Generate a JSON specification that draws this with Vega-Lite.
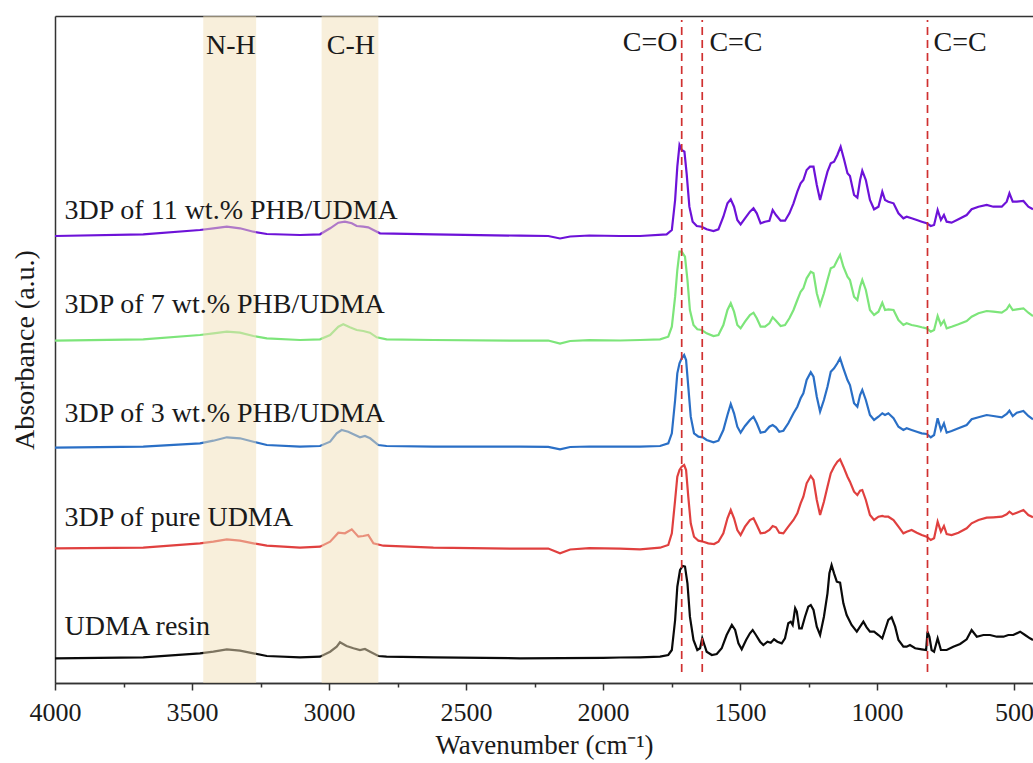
{
"$schema":"https://vega.github.io/schema/vega-lite/v6.json",
"width":978,"height":667,
"autosize":{"type":"none"},
"padding":{"left":55,"top":16,"right":0,"bottom":80},
"background":"white",
"config":{"view":{"stroke":null},"font":"Liberation Serif","axis":{"labelFont":"Liberation Serif","titleFont":"Liberation Serif","grid":false}},
"datasets":{
"spec":[
{"s":"P11","w":4000,"a":447},{"s":"P11","w":3678,"a":448.7},{"s":"P11","w":3471,"a":453},{"s":"P11","w":3422,"a":454.7},{"s":"P11","w":3373,"a":456.3},{"s":"P11","w":3325,"a":454.7},{"s":"P11","w":3276,"a":451.3},{"s":"P11","w":3227,"a":449},{"s":"P11","w":3106,"a":448},{"s":"P11","w":3033,"a":448.7},{"s":"P11","w":2996,"a":454.7},{"s":"P11","w":2966,"a":460.3},{"s":"P11","w":2942,"a":461.3},{"s":"P11","w":2917,"a":459.7},{"s":"P11","w":2899,"a":457},{"s":"P11","w":2875,"a":456.3},{"s":"P11","w":2857,"a":455.7},{"s":"P11","w":2838,"a":453},{"s":"P11","w":2814,"a":449.7},{"s":"P11","w":2619,"a":448.7},{"s":"P11","w":2303,"a":447.3},{"s":"P11","w":2200,"a":447},{"s":"P11","w":2157,"a":444.5},{"s":"P11","w":2120,"a":446.5},{"s":"P11","w":2050,"a":447.5},{"s":"P11","w":1938,"a":447},
{"s":"P11","w":1865,"a":447},{"s":"P11","w":1768,"a":448.7},{"s":"P11","w":1749,"a":453},{"s":"P11","w":1737,"a":483},{"s":"P11","w":1729,"a":516.3},{"s":"P11","w":1721,"a":538},{"s":"P11","w":1713,"a":533},{"s":"P11","w":1703,"a":531.3},{"s":"P11","w":1695,"a":509.7},{"s":"P11","w":1685,"a":476.3},{"s":"P11","w":1673,"a":461.3},{"s":"P11","w":1658,"a":457},{"s":"P11","w":1640,"a":456.3},{"s":"P11","w":1622,"a":453.7},{"s":"P11","w":1597,"a":452},{"s":"P11","w":1579,"a":453.7},{"s":"P11","w":1561,"a":466.3},{"s":"P11","w":1546,"a":479.7},{"s":"P11","w":1534,"a":483.7},{"s":"P11","w":1522,"a":476.3},{"s":"P11","w":1510,"a":463},{"s":"P11","w":1498,"a":458.7},{"s":"P11","w":1482,"a":464.7},{"s":"P11","w":1464,"a":471.3},{"s":"P11","w":1451,"a":474.7},{"s":"P11","w":1439,"a":469.7},{"s":"P11","w":1425,"a":459.7},{"s":"P11","w":1409,"a":461.3},{"s":"P11","w":1393,"a":462.3},{"s":"P11","w":1381,"a":473},{"s":"P11","w":1369,"a":468},{"s":"P11","w":1352,"a":462.3},{"s":"P11","w":1336,"a":462.3},{"s":"P11","w":1320,"a":469.7},{"s":"P11","w":1305,"a":479.7},{"s":"P11","w":1291,"a":491.3},{"s":"P11","w":1279,"a":499.7},{"s":"P11","w":1269,"a":503},{"s":"P11","w":1257,"a":513},{"s":"P11","w":1245,"a":516.3},{"s":"P11","w":1232,"a":516.3},{"s":"P11","w":1220,"a":498},{"s":"P11","w":1208,"a":483},{"s":"P11","w":1194,"a":498},{"s":"P11","w":1181,"a":511.3},{"s":"P11","w":1169,"a":519.7},{"s":"P11","w":1157,"a":521.3},{"s":"P11","w":1145,"a":528},{"s":"P11","w":1133,"a":536.3},{"s":"P11","w":1120,"a":523},{"s":"P11","w":1108,"a":509.7},{"s":"P11","w":1099,"a":507},{"s":"P11","w":1084,"a":488},{"s":"P11","w":1072,"a":485.3},{"s":"P11","w":1062,"a":503},{"s":"P11","w":1054,"a":512.3},{"s":"P11","w":1041,"a":503},{"s":"P11","w":1026,"a":483},{"s":"P11","w":1011,"a":473.7},{"s":"P11","w":995,"a":476.3},{"s":"P11","w":981,"a":491.3},{"s":"P11","w":971,"a":483},{"s":"P11","w":959,"a":481.3},{"s":"P11","w":940,"a":479.7},{"s":"P11","w":922,"a":469.7},{"s":"P11","w":904,"a":464.7},{"s":"P11","w":892,"a":466.3},{"s":"P11","w":874,"a":464.7},{"s":"P11","w":855,"a":463},{"s":"P11","w":837,"a":461.3},{"s":"P11","w":819,"a":459.7},{"s":"P11","w":804,"a":457},{"s":"P11","w":792,"a":458},{"s":"P11","w":779,"a":473},{"s":"P11","w":767,"a":463},{"s":"P11","w":756,"a":468},{"s":"P11","w":746,"a":461.3},{"s":"P11","w":728,"a":460.3},{"s":"P11","w":703,"a":463.7},{"s":"P11","w":673,"a":468},{"s":"P11","w":655,"a":473.7},{"s":"P11","w":630,"a":476.3},{"s":"P11","w":600,"a":478},{"s":"P11","w":576,"a":476.3},{"s":"P11","w":545,"a":476.3},{"s":"P11","w":527,"a":481.3},{"s":"P11","w":517,"a":489.7},{"s":"P11","w":505,"a":481.3},{"s":"P11","w":490,"a":481.3},{"s":"P11","w":466,"a":482},{"s":"P11","w":448,"a":476.3},{"s":"P11","w":431,"a":473.7},

{"s":"P7","w":4000,"a":342.3},{"s":"P7","w":3678,"a":343.7},{"s":"P7","w":3471,"a":348},{"s":"P7","w":3422,"a":349.7},{"s":"P7","w":3373,"a":351.3},{"s":"P7","w":3325,"a":350.3},{"s":"P7","w":3276,"a":347},{"s":"P7","w":3227,"a":344.7},{"s":"P7","w":3106,"a":343},{"s":"P7","w":3033,"a":343.7},{"s":"P7","w":2996,"a":348},{"s":"P7","w":2966,"a":356.3},{"s":"P7","w":2948,"a":358.7},{"s":"P7","w":2924,"a":355.7},{"s":"P7","w":2899,"a":353},{"s":"P7","w":2875,"a":352},{"s":"P7","w":2851,"a":350.3},{"s":"P7","w":2826,"a":345.7},{"s":"P7","w":2790,"a":343.7},{"s":"P7","w":2619,"a":343},{"s":"P7","w":2303,"a":342.3},{"s":"P7","w":2200,"a":342.5},{"s":"P7","w":2157,"a":339.5},{"s":"P7","w":2120,"a":342},{"s":"P7","w":2050,"a":342.8},{"s":"P7","w":1938,"a":342.5},
{"s":"P7","w":1865,"a":343},{"s":"P7","w":1792,"a":343.7},{"s":"P7","w":1762,"a":346.3},{"s":"P7","w":1749,"a":356.3},{"s":"P7","w":1737,"a":386.3},{"s":"P7","w":1729,"a":413},{"s":"P7","w":1721,"a":431.3},{"s":"P7","w":1713,"a":431.3},{"s":"P7","w":1701,"a":426.3},{"s":"P7","w":1692,"a":403},{"s":"P7","w":1683,"a":373},{"s":"P7","w":1670,"a":358},{"s":"P7","w":1656,"a":353.7},{"s":"P7","w":1640,"a":353},{"s":"P7","w":1622,"a":349.7},{"s":"P7","w":1597,"a":347},{"s":"P7","w":1579,"a":348},{"s":"P7","w":1561,"a":358},{"s":"P7","w":1546,"a":373},{"s":"P7","w":1534,"a":379.7},{"s":"P7","w":1522,"a":371.3},{"s":"P7","w":1510,"a":358},{"s":"P7","w":1498,"a":354.7},{"s":"P7","w":1482,"a":361.3},{"s":"P7","w":1464,"a":368},{"s":"P7","w":1451,"a":370.3},{"s":"P7","w":1439,"a":364.7},{"s":"P7","w":1425,"a":356.3},{"s":"P7","w":1409,"a":356.3},{"s":"P7","w":1393,"a":359.7},{"s":"P7","w":1381,"a":365.7},{"s":"P7","w":1369,"a":362.3},{"s":"P7","w":1352,"a":357},{"s":"P7","w":1336,"a":358},{"s":"P7","w":1320,"a":364.7},{"s":"P7","w":1305,"a":373},{"s":"P7","w":1291,"a":383},{"s":"P7","w":1279,"a":391.3},{"s":"P7","w":1269,"a":394.7},{"s":"P7","w":1257,"a":404.7},{"s":"P7","w":1242,"a":411.3},{"s":"P7","w":1232,"a":409.7},{"s":"P7","w":1220,"a":389.7},{"s":"P7","w":1208,"a":378},{"s":"P7","w":1194,"a":389.7},{"s":"P7","w":1181,"a":403},{"s":"P7","w":1169,"a":414.7},{"s":"P7","w":1157,"a":416.3},{"s":"P7","w":1145,"a":423},{"s":"P7","w":1135,"a":428},{"s":"P7","w":1123,"a":416.3},{"s":"P7","w":1108,"a":406.3},{"s":"P7","w":1099,"a":403},{"s":"P7","w":1084,"a":386.3},{"s":"P7","w":1072,"a":383},{"s":"P7","w":1062,"a":396.3},{"s":"P7","w":1054,"a":403},{"s":"P7","w":1041,"a":393},{"s":"P7","w":1026,"a":373},{"s":"P7","w":1011,"a":368},{"s":"P7","w":995,"a":371.3},{"s":"P7","w":981,"a":380.3},{"s":"P7","w":971,"a":373},{"s":"P7","w":959,"a":373.7},{"s":"P7","w":940,"a":373},{"s":"P7","w":922,"a":363},{"s":"P7","w":904,"a":358},{"s":"P7","w":892,"a":359.7},{"s":"P7","w":874,"a":358},{"s":"P7","w":855,"a":357},{"s":"P7","w":837,"a":355.7},{"s":"P7","w":819,"a":354.7},{"s":"P7","w":804,"a":351.3},{"s":"P7","w":792,"a":353},{"s":"P7","w":779,"a":367},{"s":"P7","w":767,"a":358},{"s":"P7","w":756,"a":362.3},{"s":"P7","w":746,"a":354.7},{"s":"P7","w":728,"a":356.3},{"s":"P7","w":703,"a":358.7},{"s":"P7","w":673,"a":362},{"s":"P7","w":655,"a":366.3},{"s":"P7","w":630,"a":369.7},{"s":"P7","w":600,"a":372},{"s":"P7","w":576,"a":371.3},{"s":"P7","w":545,"a":370.3},{"s":"P7","w":527,"a":373.7},{"s":"P7","w":517,"a":378},{"s":"P7","w":505,"a":373},{"s":"P7","w":490,"a":373.7},{"s":"P7","w":466,"a":374.7},{"s":"P7","w":448,"a":370.3},{"s":"P7","w":431,"a":367},

{"s":"P3","w":4000,"a":235.3},{"s":"P3","w":3678,"a":236.3},{"s":"P3","w":3471,"a":239.7},{"s":"P3","w":3422,"a":242.3},{"s":"P3","w":3373,"a":245.7},{"s":"P3","w":3325,"a":244.7},{"s":"P3","w":3276,"a":241.3},{"s":"P3","w":3227,"a":238},{"s":"P3","w":3106,"a":236.3},{"s":"P3","w":3033,"a":237},{"s":"P3","w":2996,"a":241.3},{"s":"P3","w":2972,"a":249.7},{"s":"P3","w":2954,"a":253},{"s":"P3","w":2930,"a":251.3},{"s":"P3","w":2905,"a":248},{"s":"P3","w":2887,"a":245.7},{"s":"P3","w":2869,"a":247},{"s":"P3","w":2850,"a":244.7},{"s":"P3","w":2820,"a":238},{"s":"P3","w":2790,"a":237},{"s":"P3","w":2619,"a":236.3},{"s":"P3","w":2303,"a":236.3},{"s":"P3","w":2200,"a":236.2},{"s":"P3","w":2157,"a":233.7},{"s":"P3","w":2120,"a":236},{"s":"P3","w":2050,"a":236.5},{"s":"P3","w":1938,"a":236.3},
{"s":"P3","w":1865,"a":236.3},{"s":"P3","w":1792,"a":237},{"s":"P3","w":1762,"a":239.7},{"s":"P3","w":1749,"a":249.7},{"s":"P3","w":1737,"a":283},{"s":"P3","w":1729,"a":309.7},{"s":"P3","w":1721,"a":319.7},{"s":"P3","w":1713,"a":324.7},{"s":"P3","w":1704,"a":328},{"s":"P3","w":1697,"a":323},{"s":"P3","w":1689,"a":296.3},{"s":"P3","w":1680,"a":266.3},{"s":"P3","w":1668,"a":249.7},{"s":"P3","w":1652,"a":246.3},{"s":"P3","w":1636,"a":245.7},{"s":"P3","w":1622,"a":243},{"s":"P3","w":1597,"a":240.7},{"s":"P3","w":1579,"a":242.3},{"s":"P3","w":1561,"a":253},{"s":"P3","w":1546,"a":268},{"s":"P3","w":1534,"a":279},{"s":"P3","w":1522,"a":269.7},{"s":"P3","w":1510,"a":256.3},{"s":"P3","w":1498,"a":250.3},{"s":"P3","w":1482,"a":257},{"s":"P3","w":1464,"a":263},{"s":"P3","w":1451,"a":266.3},{"s":"P3","w":1439,"a":259.7},{"s":"P3","w":1425,"a":250.3},{"s":"P3","w":1409,"a":251.3},{"s":"P3","w":1393,"a":256.3},{"s":"P3","w":1381,"a":258},{"s":"P3","w":1369,"a":255.7},{"s":"P3","w":1357,"a":251.3},{"s":"P3","w":1342,"a":252.3},{"s":"P3","w":1324,"a":259.7},{"s":"P3","w":1305,"a":269.7},{"s":"P3","w":1291,"a":276.3},{"s":"P3","w":1279,"a":284.7},{"s":"P3","w":1269,"a":289.7},{"s":"P3","w":1257,"a":303},{"s":"P3","w":1242,"a":310.7},{"s":"P3","w":1232,"a":306.3},{"s":"P3","w":1220,"a":286.3},{"s":"P3","w":1208,"a":271.3},{"s":"P3","w":1194,"a":283},{"s":"P3","w":1181,"a":296.3},{"s":"P3","w":1169,"a":311.3},{"s":"P3","w":1157,"a":314.7},{"s":"P3","w":1145,"a":319.7},{"s":"P3","w":1135,"a":324.7},{"s":"P3","w":1123,"a":314.7},{"s":"P3","w":1108,"a":303},{"s":"P3","w":1099,"a":298},{"s":"P3","w":1084,"a":279.7},{"s":"P3","w":1072,"a":276.3},{"s":"P3","w":1062,"a":288},{"s":"P3","w":1054,"a":293},{"s":"P3","w":1041,"a":283},{"s":"P3","w":1026,"a":268},{"s":"P3","w":1011,"a":263},{"s":"P3","w":995,"a":266.3},{"s":"P3","w":981,"a":269.7},{"s":"P3","w":971,"a":268},{"s":"P3","w":959,"a":269.7},{"s":"P3","w":940,"a":264.7},{"s":"P3","w":922,"a":256.3},{"s":"P3","w":904,"a":253},{"s":"P3","w":892,"a":254.7},{"s":"P3","w":874,"a":253},{"s":"P3","w":855,"a":251.3},{"s":"P3","w":837,"a":249.7},{"s":"P3","w":819,"a":249},{"s":"P3","w":804,"a":245.7},{"s":"P3","w":792,"a":248},{"s":"P3","w":779,"a":264.7},{"s":"P3","w":767,"a":253},{"s":"P3","w":756,"a":259.7},{"s":"P3","w":746,"a":250.3},{"s":"P3","w":728,"a":252},{"s":"P3","w":703,"a":254.7},{"s":"P3","w":673,"a":258},{"s":"P3","w":655,"a":263.7},{"s":"P3","w":630,"a":265.7},{"s":"P3","w":600,"a":268},{"s":"P3","w":576,"a":267},{"s":"P3","w":545,"a":265.7},{"s":"P3","w":527,"a":269},{"s":"P3","w":517,"a":272.3},{"s":"P3","w":505,"a":267},{"s":"P3","w":490,"a":270.3},{"s":"P3","w":466,"a":272},{"s":"P3","w":448,"a":267},{"s":"P3","w":431,"a":263.7},

{"s":"P0","w":4000,"a":134.7},{"s":"P0","w":3678,"a":135.3},{"s":"P0","w":3471,"a":139.7},{"s":"P0","w":3422,"a":141.3},{"s":"P0","w":3373,"a":143.7},{"s":"P0","w":3325,"a":142.3},{"s":"P0","w":3276,"a":139.7},{"s":"P0","w":3227,"a":137.3},{"s":"P0","w":3106,"a":135.3},{"s":"P0","w":3033,"a":136.3},{"s":"P0","w":2996,"a":141.3},{"s":"P0","w":2966,"a":150.3},{"s":"P0","w":2942,"a":149.7},{"s":"P0","w":2917,"a":153.7},{"s":"P0","w":2893,"a":146.3},{"s":"P0","w":2875,"a":147},{"s":"P0","w":2857,"a":148},{"s":"P0","w":2838,"a":139.7},{"s":"P0","w":2802,"a":137.3},{"s":"P0","w":2619,"a":135.3},{"s":"P0","w":2303,"a":134.3},{"s":"P0","w":2200,"a":134.5},{"s":"P0","w":2157,"a":129.7},{"s":"P0","w":2120,"a":133.5},{"s":"P0","w":2050,"a":134.8},{"s":"P0","w":1938,"a":134.3},
{"s":"P0","w":1865,"a":133.7},{"s":"P0","w":1792,"a":135.3},{"s":"P0","w":1762,"a":138},{"s":"P0","w":1749,"a":149.7},{"s":"P0","w":1737,"a":183},{"s":"P0","w":1729,"a":206.3},{"s":"P0","w":1721,"a":213},{"s":"P0","w":1713,"a":216.3},{"s":"P0","w":1704,"a":218},{"s":"P0","w":1697,"a":213},{"s":"P0","w":1689,"a":186.3},{"s":"P0","w":1680,"a":159.7},{"s":"P0","w":1668,"a":146.3},{"s":"P0","w":1652,"a":142.3},{"s":"P0","w":1634,"a":141.3},{"s":"P0","w":1616,"a":139.7},{"s":"P0","w":1595,"a":139},{"s":"P0","w":1579,"a":141.3},{"s":"P0","w":1561,"a":149.7},{"s":"P0","w":1546,"a":164.7},{"s":"P0","w":1534,"a":173},{"s":"P0","w":1522,"a":164.7},{"s":"P0","w":1510,"a":153},{"s":"P0","w":1498,"a":148},{"s":"P0","w":1482,"a":156.3},{"s":"P0","w":1464,"a":163},{"s":"P0","w":1451,"a":164.7},{"s":"P0","w":1439,"a":158},{"s":"P0","w":1425,"a":149.7},{"s":"P0","w":1409,"a":150.3},{"s":"P0","w":1393,"a":153},{"s":"P0","w":1381,"a":157},{"s":"P0","w":1369,"a":155.7},{"s":"P0","w":1357,"a":150.3},{"s":"P0","w":1342,"a":149.7},{"s":"P0","w":1324,"a":156.3},{"s":"P0","w":1305,"a":163},{"s":"P0","w":1291,"a":169.7},{"s":"P0","w":1279,"a":179.7},{"s":"P0","w":1269,"a":186.3},{"s":"P0","w":1257,"a":199.7},{"s":"P0","w":1242,"a":207},{"s":"P0","w":1232,"a":203},{"s":"P0","w":1220,"a":183},{"s":"P0","w":1208,"a":168},{"s":"P0","w":1194,"a":181.3},{"s":"P0","w":1181,"a":196.3},{"s":"P0","w":1169,"a":209.7},{"s":"P0","w":1157,"a":216.3},{"s":"P0","w":1145,"a":221.3},{"s":"P0","w":1135,"a":223.7},{"s":"P0","w":1123,"a":216.3},{"s":"P0","w":1108,"a":206.3},{"s":"P0","w":1099,"a":201.3},{"s":"P0","w":1084,"a":191.3},{"s":"P0","w":1072,"a":188},{"s":"P0","w":1062,"a":192.3},{"s":"P0","w":1054,"a":193},{"s":"P0","w":1041,"a":183},{"s":"P0","w":1026,"a":168},{"s":"P0","w":1011,"a":163},{"s":"P0","w":995,"a":166.3},{"s":"P0","w":981,"a":167},{"s":"P0","w":971,"a":166.3},{"s":"P0","w":959,"a":166.3},{"s":"P0","w":940,"a":163},{"s":"P0","w":922,"a":156.3},{"s":"P0","w":904,"a":149.7},{"s":"P0","w":892,"a":151.3},{"s":"P0","w":874,"a":153},{"s":"P0","w":855,"a":150.3},{"s":"P0","w":837,"a":148},{"s":"P0","w":819,"a":146.3},{"s":"P0","w":804,"a":143},{"s":"P0","w":792,"a":144.7},{"s":"P0","w":779,"a":161.3},{"s":"P0","w":767,"a":151.3},{"s":"P0","w":756,"a":157},{"s":"P0","w":746,"a":149},{"s":"P0","w":728,"a":148},{"s":"P0","w":703,"a":150.3},{"s":"P0","w":673,"a":154.7},{"s":"P0","w":655,"a":159.7},{"s":"P0","w":630,"a":163},{"s":"P0","w":600,"a":165.3},{"s":"P0","w":576,"a":165.7},{"s":"P0","w":545,"a":166.3},{"s":"P0","w":527,"a":168.7},{"s":"P0","w":517,"a":171.3},{"s":"P0","w":505,"a":168.7},{"s":"P0","w":490,"a":170.3},{"s":"P0","w":466,"a":173},{"s":"P0","w":448,"a":168},{"s":"P0","w":431,"a":165.7},

{"s":"R","w":4000,"a":24.7},{"s":"R","w":3678,"a":25.7},{"s":"R","w":3471,"a":29.7},{"s":"R","w":3422,"a":31.3},{"s":"R","w":3373,"a":33.7},{"s":"R","w":3325,"a":32.3},{"s":"R","w":3276,"a":29.7},{"s":"R","w":3227,"a":27},{"s":"R","w":3106,"a":25.7},{"s":"R","w":3033,"a":26.3},{"s":"R","w":2996,"a":31.3},{"s":"R","w":2972,"a":36.3},{"s":"R","w":2960,"a":40.7},{"s":"R","w":2936,"a":37},{"s":"R","w":2911,"a":34.7},{"s":"R","w":2887,"a":33},{"s":"R","w":2869,"a":34},{"s":"R","w":2850,"a":31.3},{"s":"R","w":2820,"a":27},{"s":"R","w":2790,"a":26.3},{"s":"R","w":2619,"a":25.7},{"s":"R","w":2303,"a":24.7},{"s":"R","w":2000,"a":25.2},{"s":"R","w":1938,"a":25.5},
{"s":"R","w":1865,"a":25.7},{"s":"R","w":1792,"a":26.3},{"s":"R","w":1762,"a":28},{"s":"R","w":1749,"a":33},{"s":"R","w":1737,"a":63},{"s":"R","w":1729,"a":96.3},{"s":"R","w":1719,"a":113},{"s":"R","w":1709,"a":117},{"s":"R","w":1701,"a":116.3},{"s":"R","w":1692,"a":99.7},{"s":"R","w":1683,"a":66.3},{"s":"R","w":1670,"a":43},{"s":"R","w":1656,"a":33},{"s":"R","w":1646,"a":34.7},{"s":"R","w":1638,"a":44.7},{"s":"R","w":1630,"a":38},{"s":"R","w":1622,"a":31.3},{"s":"R","w":1603,"a":28},{"s":"R","w":1585,"a":29},{"s":"R","w":1567,"a":34.7},{"s":"R","w":1549,"a":48},{"s":"R","w":1530,"a":58},{"s":"R","w":1518,"a":53},{"s":"R","w":1506,"a":39.7},{"s":"R","w":1494,"a":33.7},{"s":"R","w":1478,"a":43},{"s":"R","w":1464,"a":49.7},{"s":"R","w":1454,"a":53},{"s":"R","w":1442,"a":48},{"s":"R","w":1427,"a":41.3},{"s":"R","w":1415,"a":38},{"s":"R","w":1400,"a":41.3},{"s":"R","w":1388,"a":40.3},{"s":"R","w":1376,"a":43.7},{"s":"R","w":1364,"a":41.3},{"s":"R","w":1348,"a":39.7},{"s":"R","w":1336,"a":44.7},{"s":"R","w":1324,"a":59.7},{"s":"R","w":1315,"a":61.3},{"s":"R","w":1308,"a":58},{"s":"R","w":1299,"a":74.7},{"s":"R","w":1293,"a":71.3},{"s":"R","w":1284,"a":54.7},{"s":"R","w":1275,"a":54.7},{"s":"R","w":1263,"a":66.3},{"s":"R","w":1251,"a":76.3},{"s":"R","w":1242,"a":78},{"s":"R","w":1232,"a":73},{"s":"R","w":1220,"a":56.3},{"s":"R","w":1208,"a":48},{"s":"R","w":1194,"a":66.3},{"s":"R","w":1181,"a":89.7},{"s":"R","w":1174,"a":109.7},{"s":"R","w":1166,"a":118},{"s":"R","w":1157,"a":109.7},{"s":"R","w":1147,"a":101.3},{"s":"R","w":1135,"a":100.3},{"s":"R","w":1123,"a":79.7},{"s":"R","w":1111,"a":68},{"s":"R","w":1093,"a":58},{"s":"R","w":1074,"a":51.3},{"s":"R","w":1062,"a":56.3},{"s":"R","w":1050,"a":61.3},{"s":"R","w":1038,"a":55.7},{"s":"R","w":1026,"a":51.3},{"s":"R","w":1011,"a":51.3},{"s":"R","w":995,"a":48},{"s":"R","w":981,"a":44.7},{"s":"R","w":971,"a":53},{"s":"R","w":959,"a":63},{"s":"R","w":947,"a":65.7},{"s":"R","w":934,"a":56.3},{"s":"R","w":922,"a":43},{"s":"R","w":904,"a":36.3},{"s":"R","w":892,"a":36.3},{"s":"R","w":880,"a":38},{"s":"R","w":861,"a":34.7},{"s":"R","w":837,"a":33.7},{"s":"R","w":821,"a":33},{"s":"R","w":816,"a":51.3},{"s":"R","w":809,"a":46.3},{"s":"R","w":801,"a":33},{"s":"R","w":792,"a":31.3},{"s":"R","w":779,"a":44.7},{"s":"R","w":767,"a":33},{"s":"R","w":746,"a":33},{"s":"R","w":722,"a":36.3},{"s":"R","w":697,"a":39},{"s":"R","w":673,"a":43.7},{"s":"R","w":655,"a":53},{"s":"R","w":636,"a":46.3},{"s":"R","w":612,"a":48},{"s":"R","w":588,"a":48},{"s":"R","w":563,"a":46.3},{"s":"R","w":539,"a":46.3},{"s":"R","w":521,"a":48},{"s":"R","w":503,"a":48},{"s":"R","w":478,"a":51.3},{"s":"R","w":460,"a":48},{"s":"R","w":442,"a":44.7},{"s":"R","w":431,"a":43}
],
"labels":[
{"t":"3DP of 11 wt.% PHB/UDMA","w":3965,"a":464},
{"t":"3DP of 7 wt.% PHB/UDMA","w":3965,"a":369.7},
{"t":"3DP of 3 wt.% PHB/UDMA","w":3965,"a":261.3},
{"t":"3DP of pure UDMA","w":3965,"a":157},
{"t":"UDMA resin","w":3965,"a":48}
],
"bands":[{"b":"N-H","w1":3459,"w2":3266},{"b":"C-H","w1":3027,"w2":2820}],
"rules":[{"g":"C=O","w":1713},{"g":"C=C","w":1638},{"g":"C=C","w":816}],
"tags":[
{"t":"N-H","w":3358,"a":629},
{"t":"C-H","w":2920,"a":629},
{"t":"C=O","w":1828,"a":632},
{"t":"C=C","w":1515,"a":632},
{"t":"C=C","w":697,"a":632}
]
},
"resolve":{"axis":{"x":"independent","y":"independent"}},
"layer":[
{"data":{"name":"spec"},
 "mark":{"type":"line","strokeWidth":2.2,"clip":true},
 "encoding":{
  "x":{"field":"w","type":"quantitative","scale":{"domain":[4000,431],"nice":false,"zero":false},
   "axis":{"orient":"bottom","values":[4000,3500,3000,2500,2000,1500,1000,500],"format":"d","tickSize":7,"tickWidth":1.5,"tickColor":"#333","domainColor":"#333","domainWidth":1.5,"labelFontSize":26,"labelColor":"#1a1a1a","labelPadding":9,"labelFlush":false,"labelOverlap":false,"title":"Wavenumber (cm⁻¹)","titleFontSize":27,"titleFontWeight":"normal","titleColor":"#1a1a1a","titlePadding":7}},
  "y":{"field":"a","type":"quantitative","scale":{"domain":[0,667],"nice":false,"zero":false},
   "axis":{"orient":"left","ticks":false,"labels":false,"grid":false,"domainColor":"#333","domainWidth":1.5,"title":"Absorbance (a.u.)","titleFontSize":28,"titleFontWeight":"normal","titleColor":"#1a1a1a","titlePadding":16}},
  "color":{"field":"s","type":"nominal","scale":{"domain":["P11","P7","P3","P0","R"],"range":["#6d12d8","#7de57a","#2a6fc6","#e0403f","#0a0a0a"]},"legend":null}
 }},
{"data":{"name":"bands"},
 "mark":{"type":"rect","color":"#f2dfb8","opacity":0.5},
 "encoding":{
  "x":{"field":"w1","type":"quantitative","axis":{"orient":"bottom","values":[3750,3250,2750,2250,1750,1250,750],"labels":false,"tickSize":4,"tickWidth":1.5,"tickColor":"#333","domainColor":"#333","domainWidth":1.5,"title":null}},
  "x2":{"field":"w2"}
 }},
{"data":{"name":"rules"},
 "mark":{"type":"rule","color":"#d03030","strokeWidth":1.7,"strokeDash":[8,5]},
 "encoding":{
  "x":{"field":"w","type":"quantitative","axis":{"orient":"top","labels":false,"ticks":false,"domainColor":"#333","domainWidth":1.5,"title":null}},
  "y":{"datum":11,"type":"quantitative","axis":null},
  "y2":{"datum":663}
 }},
{"data":{"name":"labels"},
 "mark":{"type":"text","align":"left","baseline":"alphabetic","fontSize":28,"font":"Liberation Serif","color":"#1a1a1a"},
 "encoding":{
  "x":{"field":"w","type":"quantitative","axis":null},
  "y":{"field":"a","type":"quantitative","axis":null},
  "text":{"field":"t"}
 }},
{"data":{"name":"tags"},
 "mark":{"type":"text","align":"center","baseline":"alphabetic","fontSize":28,"font":"Liberation Serif","color":"#1a1a1a"},
 "encoding":{
  "x":{"field":"w","type":"quantitative","axis":null},
  "y":{"field":"a","type":"quantitative","axis":null},
  "text":{"field":"t"}
 }}
]
}
